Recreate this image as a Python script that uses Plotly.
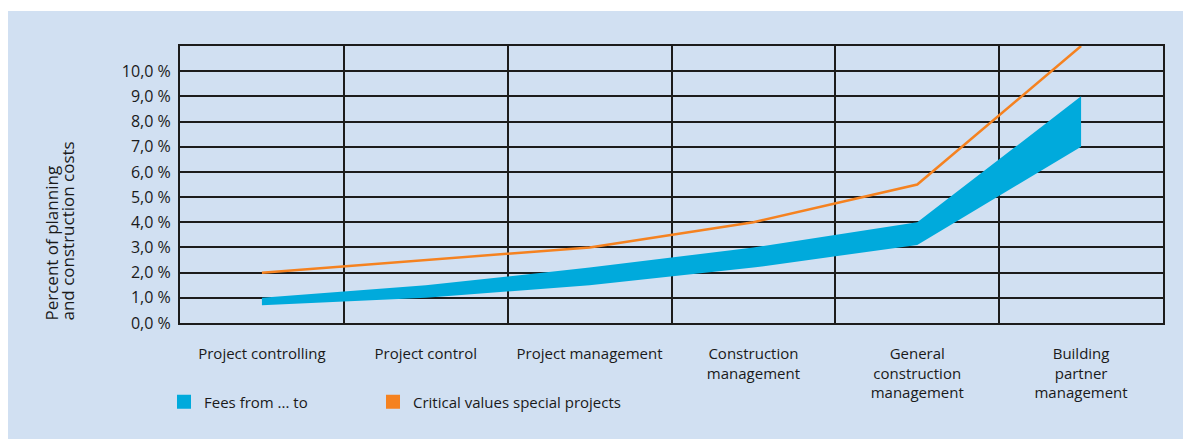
import plotly.graph_objects as go

categories = ["Project controlling", "Project control", "Project management",
              "Construction<br>management", "General<br>construction<br>management",
              "Building<br>partner<br>management"]
fees_low = [0.7, 1.0, 1.5, 2.2, 3.1, 7.0]
fees_high = [1.0, 1.5, 2.2, 3.0, 4.0, 9.0]
critical = [2.0, 2.5, 3.0, 4.0, 5.5, 11.0]
y_ticks = [0, 1, 2, 3, 4, 5, 6, 7, 8, 9, 10]
y_ticktext = ["0,0 %", "1,0 %", "2,0 %", "3,0 %", "4,0 %", "5,0 %",
              "6,0 %", "7,0 %", "8,0 %", "9,0 %", "10,0 %"]
series_names = ["Fees from ... to", "Critical values special projects"]
y_title_lines = ["Percent of planning", "and construction costs"]

BLUE = "#00aadc"
ORANGE = "#f58220"
BG = "#d1e0f2"
GRID = "#1c1c1c"
FONT = "Open Sans"
TXT = "#1a1a1a"

# page is offset by 8px body margin; work in figure pixels
W, H = 1183, 431
L, R, T, B = 172, 28, 38, 116
pw, ph = W - L - R, H - T - B

def px_x(px):
    return (px - L) / pw

def px_y(py):
    return (H - B - py) / ph

fig = go.Figure()
fig.add_trace(go.Scatter(x=categories, y=fees_low, mode="lines",
                         line=dict(width=0, color=BLUE), showlegend=False,
                         hoverinfo="skip"))
fig.add_trace(go.Scatter(x=categories, y=fees_high, mode="lines", fill="tonexty",
                         fillcolor=BLUE, line=dict(width=0, color=BLUE),
                         showlegend=False))
fig.add_trace(go.Scatter(x=categories, y=critical, mode="lines",
                         line=dict(width=2.5, color=ORANGE), showlegend=False))
# legend entries
fig.add_trace(go.Scatter(x=[None], y=[None], mode="markers", name=series_names[0],
                         legend="legend",
                         marker=dict(symbol="square", size=14, color=BLUE)))
fig.add_trace(go.Scatter(x=[None], y=[None], mode="markers", name=series_names[1],
                         legend="legend2",
                         marker=dict(symbol="square", size=14, color=ORANGE)))

fig.add_shape(type="rect", xref="paper", yref="paper", layer="below",
              x0=px_x(-1), x1=px_x(1200), y0=px_y(450), y1=px_y(3),
              fillcolor=BG, line=dict(width=0))

for line_txt, cx in zip(y_title_lines, [43, 59]):
    fig.add_annotation(text=line_txt, xref="paper", yref="paper",
                       x=px_x(cx), y=0, xanchor="center", yanchor="bottom",
                       textangle=-90, showarrow=False,
                       font=dict(family=FONT, size=17, color=TXT))

legend_common = dict(orientation="h", xanchor="left", yanchor="middle",
                     bgcolor="rgba(0,0,0,0)",
                     font=dict(family=FONT, size=15, color=TXT))

fig.update_layout(
    width=W, height=H,
    margin=dict(l=L, r=R, t=T, b=B, autoexpand=False),
    paper_bgcolor="white", plot_bgcolor="rgba(0,0,0,0)",
    font=dict(family=FONT, size=15, color=TXT),
    showlegend=True,
    legend=dict(x=px_x(156), y=px_y(394), **legend_common),
    legend2=dict(x=px_x(365), y=px_y(394), **legend_common),
    xaxis=dict(type="category", tickson="boundaries", showgrid=True,
               gridcolor=GRID, gridwidth=1.5, showline=True, mirror=True,
               linecolor=GRID, linewidth=2, ticks="", ticklabelstandoff=16,
               range=[-0.5, 5.5], zeroline=False,
               tickfont=dict(family=FONT, size=15, color=TXT)),
    yaxis=dict(range=[0, 11], tickmode="array", tickvals=y_ticks,
               ticktext=y_ticktext, showgrid=True, gridcolor=GRID, gridwidth=1.5,
               showline=True, mirror=True, linecolor=GRID, linewidth=2,
               zeroline=False, ticks="outside", ticklen=4,
               tickcolor="rgba(0,0,0,0)",
               tickfont=dict(family=FONT, size=16, color=TXT)),
)

fig.write_html("out.html")
